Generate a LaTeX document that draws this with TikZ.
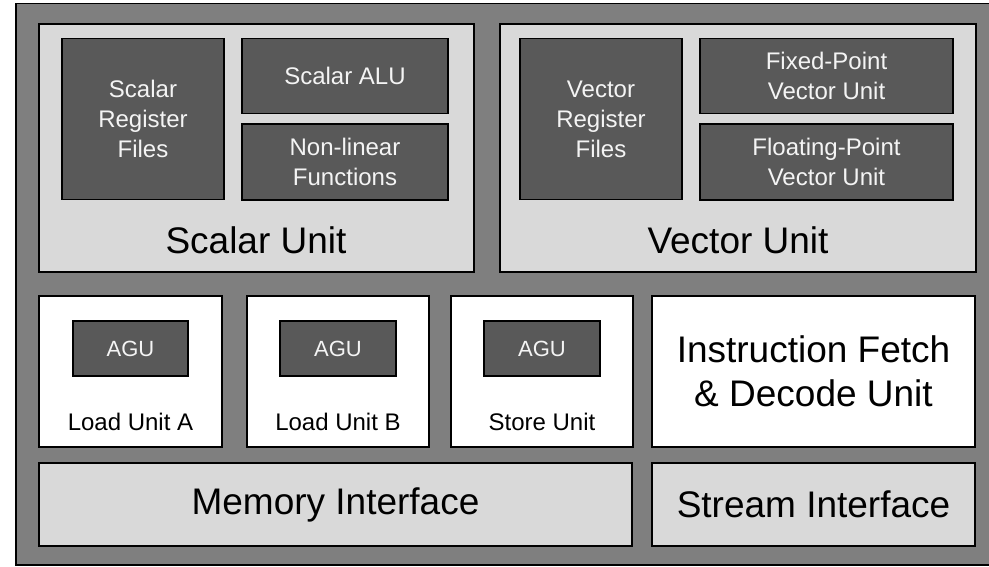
\documentclass[tikz,border=0pt]{standalone}
\usepackage{fontspec}
\setmainfont{Liberation Sans}
\definecolor{frame}{HTML}{7F7F7F}
\definecolor{pale}{HTML}{D9D9D9}
\definecolor{deep}{HTML}{595959}
\definecolor{ink}{HTML}{F4F4F4}
\tikzset{
  blk/.style={draw=black, line width=1.5pt, inner sep=0pt, outer sep=0pt, anchor=north west},
  unitbox/.style={blk, fill=pale},
  corebox/.style={blk, fill=deep, text=ink, align=center, font=\fontsize{24}{30}\selectfont},
  agubox/.style={blk, fill=deep, text=ink, font=\fontsize{22}{26}\selectfont},
  whitebox/.style={blk, fill=white},
  biglbl/.style={font=\fontsize{37}{44}\selectfont, align=center, inner sep=0pt},
  smalllbl/.style={font=\fontsize{24}{30}\selectfont, inner sep=0pt},
  sz/.style 2 args={minimum width=#1pt, minimum height=#2pt},
}
\begin{document}
\begin{tikzpicture}[x=1pt, y=-1pt]
\useasboundingbox (0,0) rectangle (989,567);
% chip outline
\draw[fill=frame, line width=1.5pt] (16,3.5) rectangle (1000,565);

% scalar unit
\node[unitbox, sz={435}{248}] (scalar) at (39,24) {};
\node[corebox, sz={162}{161}] (srf) at (62,38.5) {Scalar\\Register\\Files};
\node[corebox, sz={206}{75}] (salu) at (242,38.5) {Scalar ALU};
\node[corebox, sz={206}{76}] (nlf) at (242,124) {Non-linear\\Functions};
\node[biglbl] (scalarlbl) at (256,240) {Scalar Unit};

% vector unit
\node[unitbox, sz={476}{248}] (vector) at (500,24) {};
\node[corebox, sz={162}{161}] (vrf) at (520,38.5) {Vector\\Register\\Files};
\node[corebox, sz={253}{75}] (fxv) at (700,38.5) {Fixed-Point\\Vector Unit};
\node[corebox, sz={253}{76}] (flv) at (700,124) {Floating-Point\\Vector Unit};
\node[biglbl] (vectorlbl) at (738,240) {Vector Unit};

% load / store units
\node[whitebox, sz={183}{151}] (lda) at (39,296) {};
\node[agubox, sz={115}{55}] (agua) at (73,321) {AGU};
\node[smalllbl] (ldalbl) at (130.5,422) {Load Unit A};

\node[whitebox, sz={182}{151}] (ldb) at (247,296) {};
\node[agubox, sz={116}{55}] (agub) at (280,321) {AGU};
\node[smalllbl] (ldblbl) at (338,422) {Load Unit B};

\node[whitebox, sz={182}{151}] (st) at (451,296) {};
\node[agubox, sz={116}{55}] (aguc) at (484,321) {AGU};
\node[smalllbl] (stlbl) at (542,422) {Store Unit};

% instruction fetch
\node[whitebox, biglbl, sz={323}{151}] (ifd) at (652,296) {Instruction Fetch\\\& Decode Unit};

% interfaces
\node[unitbox, biglbl, sz={593}{83}] (mem) at (39,463) {Memory Interface};
\node[unitbox, biglbl, sz={323}{83}] (stream) at (652,463) {Stream Interface};
\end{tikzpicture}
\end{document}
